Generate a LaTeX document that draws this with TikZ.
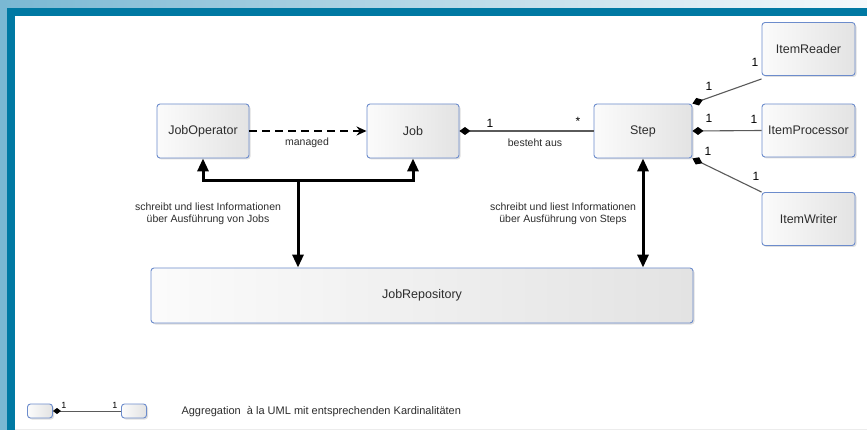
\documentclass[tikz,border=0pt]{standalone}
\usepackage{fontspec}
\setmainfont{Liberation Sans}
\usetikzlibrary{arrows.meta,shadows,calc}
\definecolor{boxblue}{RGB}{108,140,204}
\definecolor{txt}{RGB}{45,45,45}
\definecolor{aggline}{RGB}{90,90,90}
\definecolor{darkband}{RGB}{0,121,163}
\definecolor{lightband}{RGB}{122,184,211}
\begin{document}
\begin{tikzpicture}[x=1pt,y=-1pt,
  box/.style={draw=boxblue, line width=0.9pt, rounded corners=3pt,
    left color=gray!3, right color=gray!22, text=txt, inner sep=0pt,
    font=\fontsize{12.5}{15}\selectfont,
    drop shadow={opacity=0.25, shadow xshift=1.5pt, shadow yshift=-1.5pt}},
  minibox/.style={box, minimum width=25pt, minimum height=14pt, rounded corners=3pt},
  agg/.style={draw=aggline, line width=1.1pt, {Diamond[black,width=8pt,length=11pt]}-},
  reparr/.style={line width=3pt, -{Triangle[width=11pt,length=13pt]}},
  reparrtwo/.style={line width=3pt, {Triangle[width=11pt,length=13pt]}-{Triangle[width=11pt,length=13pt]}},
  small/.style={font=\fontsize{10.5}{12.5}\selectfont, text=txt},
  card/.style={font=\fontsize{12}{14}\selectfont, text=black, inner sep=0pt},
]
\useasboundingbox (0,0) rectangle (867,430);
% frame
\fill[white] (0,0) rectangle (867,430);
\shade[left color=lightband, right color=lightband!8] (0,0) rectangle (867,8);
\fill[lightband] (0,0) rectangle (7,430);
\fill[darkband] (7,8) rectangle (867,16);
\fill[darkband] (7,8) rectangle (15,430);
\draw[gray!15, line width=0.8pt] (15,429) -- (867,429);

% boxes
\node[box, minimum width=92pt, minimum height=54pt] (jo) at (203,131) {JobOperator};
\node[box, minimum width=92pt, minimum height=54pt] (jb) at (413,131) {Job};
\node[box, minimum width=98pt, minimum height=54pt] (st) at (643,131) {Step};
\node[box, minimum width=93pt, minimum height=53pt] (ir) at (808.5,49) {ItemReader};
\node[box, minimum width=93pt, minimum height=53pt] (ip) at (808.5,130.5) {ItemProcessor};
\node[box, minimum width=93pt, minimum height=53pt] (iw) at (808.5,219) {ItemWriter};
\node[box, minimum width=542pt, minimum height=55pt] (jr) at (422,295.5) {JobRepository};

% managed
\draw[line width=1.6pt, dash pattern=on 8pt off 5pt, -{Stealth[length=10pt,width=9pt]}] (jo.east) -- (jb.west);
\node[small] (lm) at (307,143) {managed};

% besteht aus
\draw[agg] (jb.east) -- (st.west);
\node[card] (c1) at (490,123) {1};
\node[card] (c2) at (578,121) {*};
\node[small] (lb) at (535,143) {besteht aus};

% step aggregations
\draw[agg] (st.north east) -- ([yshift=-3pt]ir.south west);
\draw[agg] (st.east) -- (ip.west);
\draw[agg] (st.south east) -- (iw.north west);
\node[card] (c3) at (709,86) {1};
\node[card] (c4) at (755,62) {1};
\node[card] (c5) at (709,118) {1};
\node[card] (c6) at (754,119) {1};
\node[card] (c7) at (708,151) {1};
\node[card] (c8) at (756,176) {1};

% repository connections
\coordinate (jc) at (298,181);
\draw[reparrtwo] (jo.south) |- (jc) -| (jb.south);
\draw[reparr] (jc) -- (jc |- jr.north);
\draw[reparrtwo] (st.south) -- (st.south |- jr.north);
\node[small, align=center] (l1) at (208,214) {schreibt und liest Informationen\\über Ausführung von Jobs};
\node[small, align=center] (l2) at (563,214) {schreibt und liest Informationen\\über Ausführung von Steps};

% legend
\node[minibox] (la) at (40,411) {};
\node[minibox] (lb2) at (134,411) {};
\draw[agg, line width=0.8pt, {Diamond[black,width=6pt,length=8pt]}-] (la.east) -- (lb2.west);
\node[card, font=\fontsize{9}{10}\selectfont] (c9) at (64,405) {1};
\node[card, font=\fontsize{9}{10}\selectfont] (c10) at (115,405) {1};
\node[small, anchor=west, font=\fontsize{11}{13}\selectfont] (lt) at (178,412) {Aggregation \ à la UML mit entsprechenden Kardinalitäten};
\end{tikzpicture}
\end{document}
